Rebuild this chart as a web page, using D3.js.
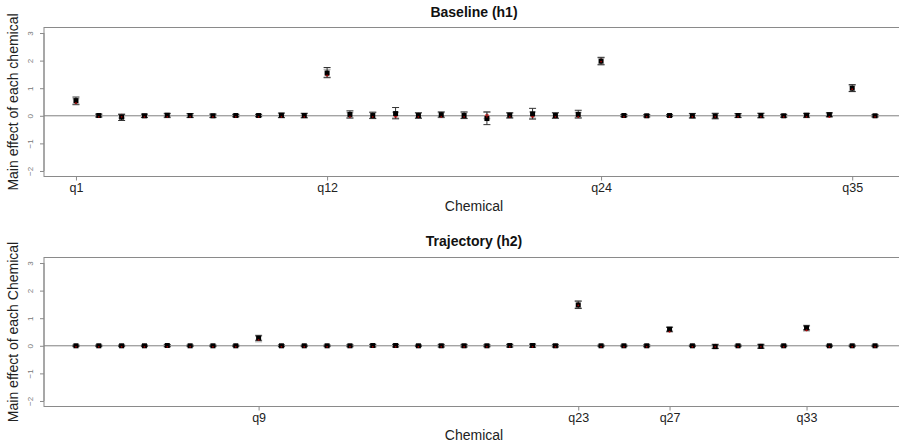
<!DOCTYPE html>
<html>
<head>
<meta charset="utf-8">
<script src="https://cdn.jsdelivr.net/npm/d3@7"></script>
<style>
html,body{margin:0;padding:0;background:#fff;}
svg{display:block;font-family:"Liberation Sans",Arial,sans-serif;}
</style>
</head>
<body>
<svg id="chart" width="899" height="446"></svg>
<script>
// ---- data ----
const chemicals = d3.range(1, 37).map(i => "q" + i);

const titleTop = "Baseline (h1)";
const titleBottom = "Trajectory (h2)";
const yLabelTop = "Main effect of each chemical";
const yLabelBottom = "Main effect of each Chemical";
const xLabel = "Chemical";
const yTicks = [-2, -1, 0, 1, 2, 3];
const xTicksTop = ["q1", "q12", "q24", "q35"];
const xTicksBottom = ["q9", "q23", "q27", "q33"];

// Baseline (h1): estimate and interval
const h1Est = [0.55, 0.01, -0.05, 0.00, 0.02, 0.01, 0.00, 0.01, 0.01, 0.02, 0.01, 1.55,
               0.05, 0.01, 0.08, 0.01, 0.04, 0.01, -0.10, 0.02, 0.07, 0.01, 0.05, 1.98,
               0.01, 0.00, 0.01, 0.00, -0.01, 0.01, 0.01, 0.00, 0.02, 0.04, 1.00, 0.00];
const h1Lo  = [0.42, -0.04, -0.17, -0.06, -0.05, -0.06, -0.06, -0.03, -0.03, -0.06, -0.07, 1.38,
               -0.08, -0.10, -0.11, -0.09, -0.05, -0.10, -0.32, -0.08, -0.12, -0.09, -0.08, 1.85,
               -0.03, -0.04, -0.02, -0.08, -0.11, -0.06, -0.07, -0.05, -0.05, -0.03, 0.88, -0.04];
const h1Hi  = [0.68, 0.06, 0.05, 0.06, 0.09, 0.08, 0.06, 0.05, 0.05, 0.10, 0.09, 1.75,
               0.18, 0.13, 0.30, 0.11, 0.14, 0.14, 0.14, 0.11, 0.27, 0.11, 0.20, 2.12,
               0.05, 0.04, 0.04, 0.08, 0.09, 0.08, 0.09, 0.05, 0.09, 0.11, 1.13, 0.04];
// Baseline (h1): reference points (red) and their intervals
const h1Ref = [0.50, 0.00, 0.00, 0.00, 0.00, 0.00, 0.00, 0.00, 0.00, 0.00, 0.00, 1.50,
               0.00, 0.00, 0.00, 0.00, 0.00, 0.00, 0.00, 0.00, 0.00, 0.00, 0.00, 2.00,
               0.00, 0.00, 0.00, 0.00, 0.00, 0.00, 0.00, 0.00, 0.00, 0.00, 1.00, 0.00];
const h1RefLo = [0.40, -0.05, -0.08, -0.06, -0.06, -0.06, -0.06, -0.05, -0.04, -0.07, -0.07, 1.40,
                 -0.08, -0.09, -0.08, -0.08, -0.06, -0.09, -0.10, -0.07, -0.09, -0.08, -0.07, 1.86,
                 -0.04, -0.04, -0.03, -0.07, -0.08, -0.06, -0.07, -0.05, -0.06, -0.05, 0.88, -0.04];
const h1RefHi = [0.62, 0.06, 0.07, 0.06, 0.07, 0.07, 0.06, 0.05, 0.05, 0.08, 0.08, 1.68,
                 0.12, 0.12, 0.13, 0.10, 0.12, 0.12, 0.13, 0.10, 0.14, 0.11, 0.12, 2.10,
                 0.04, 0.04, 0.04, 0.08, 0.08, 0.07, 0.09, 0.05, 0.07, 0.08, 1.10, 0.04];

// Trajectory (h2)
const h2Est = [0.00, 0.00, 0.00, 0.00, 0.01, 0.00, 0.00, 0.00, 0.28, 0.00, 0.00, 0.00,
               0.00, 0.01, 0.01, 0.00, 0.00, 0.00, 0.00, 0.01, 0.01, 0.00, 1.48, 0.00,
               0.00, 0.00, 0.60, 0.00, -0.03, 0.00, -0.02, 0.00, 0.65, 0.00, 0.00, 0.00];
const h2Lo  = [-0.02, -0.02, -0.02, -0.02, -0.03, -0.02, -0.02, -0.02, 0.20, -0.03, -0.02, -0.02,
               -0.03, -0.04, -0.04, -0.02, -0.04, -0.04, -0.03, -0.04, -0.05, -0.04, 1.35, -0.02,
               -0.02, -0.03, 0.53, -0.02, -0.10, -0.02, -0.09, -0.02, 0.58, -0.02, -0.02, -0.02];
const h2Hi  = [0.02, 0.02, 0.02, 0.02, 0.04, 0.02, 0.02, 0.02, 0.36, 0.03, 0.02, 0.02,
               0.03, 0.05, 0.05, 0.02, 0.04, 0.04, 0.03, 0.05, 0.06, 0.04, 1.62, 0.02,
               0.02, 0.03, 0.67, 0.02, 0.04, 0.02, 0.04, 0.02, 0.72, 0.02, 0.02, 0.02];
const h2Ref = [0.00, 0.00, 0.00, 0.00, 0.00, 0.00, 0.00, 0.00, 0.25, 0.00, 0.00, 0.00,
               0.00, 0.00, 0.00, 0.00, 0.00, 0.00, 0.00, 0.00, 0.00, 0.00, 1.50, 0.00,
               0.00, 0.00, 0.55, 0.00, 0.00, 0.00, 0.00, 0.00, 0.60, 0.00, 0.00, 0.00];
const h2RefLo = [-0.03, -0.03, -0.03, -0.03, -0.04, -0.03, -0.03, -0.03, 0.15, -0.03, -0.03, -0.03,
                 -0.04, -0.04, -0.04, -0.03, -0.05, -0.05, -0.04, -0.05, -0.05, -0.05, 1.38, -0.03,
                 -0.03, -0.04, 0.50, -0.03, -0.08, -0.03, -0.08, -0.03, 0.54, -0.03, -0.03, -0.03];
const h2RefHi = [0.03, 0.03, 0.03, 0.03, 0.04, 0.03, 0.03, 0.03, 0.38, 0.03, 0.03, 0.03,
                 0.04, 0.05, 0.05, 0.03, 0.05, 0.05, 0.04, 0.05, 0.06, 0.05, 1.62, 0.03,
                 0.03, 0.04, 0.68, 0.03, 0.06, 0.03, 0.06, 0.03, 0.74, 0.03, 0.03, 0.03];

// ---- drawing ----
const svg = d3.select("#chart");

function panel(opts) {
  const {top, bottom, title, titleY, yLabel, xTicks, est, lo, hi, ref, refLo, refHi, tickLabelY, xLabelY} = opts;
  const left = 44, right = 907;
  const x = d3.scaleLinear().domain([-0.4, 37.4]).range([left, right]);
  const y = d3.scaleLinear().domain([-2.2, 3.2]).range([bottom, top]);
  const g = svg.append("g");

  // frame
  g.append("rect").attr("x", left).attr("y", top).attr("width", right - left).attr("height", bottom - top)
    .attr("fill", "none").attr("stroke", "#8a8a8a").attr("stroke-width", 1);

  // zero line
  g.append("line").attr("x1", left).attr("x2", right).attr("y1", y(0)).attr("y2", y(0))
    .attr("stroke", "#808080").attr("stroke-width", 1);

  // y axis
  const ya = g.append("g").attr("transform", `translate(${left},0)`)
    .call(d3.axisLeft(y).tickValues(yTicks).tickSize(4).tickFormat(d3.format("d")));
  ya.select(".domain").attr("stroke", "#8a8a8a").attr("d", `M0,${y(-2)}V${y(3)}`);
  ya.selectAll(".tick line").attr("stroke", "#8a8a8a");
  ya.selectAll(".tick text")
    .attr("x", 0).attr("dy", 0)
    .attr("transform", "translate(-11,0) rotate(-90)")
    .attr("text-anchor", "middle")
    .attr("fill", "#777").style("font-size", "8px");

  // x axis
  const xa = g.append("g").attr("transform", `translate(0,${bottom})`)
    .call(d3.axisBottom(x).tickValues(xTicks.map(t => chemicals.indexOf(t) + 1))
      .tickSize(4).tickFormat(d => chemicals[d - 1]));
  xa.select(".domain").remove();
  xa.selectAll(".tick line").attr("stroke", "#8a8a8a");
  xa.selectAll(".tick text").attr("y", tickLabelY - bottom).attr("dy", "0.35em")
    .attr("fill", "#222").style("font-size", "12.5px");

  // titles
  g.append("text").attr("x", 474).attr("y", titleY).attr("text-anchor", "middle")
    .attr("dy", "0.35em").style("font-weight", "bold").style("font-size", "14px").attr("fill", "#111")
    .text(title);
  g.append("text").attr("x", 474).attr("y", xLabelY).attr("text-anchor", "middle")
    .attr("dy", "0.35em").style("font-size", "14px").attr("fill", "#222").text(xLabel);
  g.append("text").attr("transform", `translate(13,${(top + bottom) / 2}) rotate(-90)`)
    .attr("text-anchor", "middle").attr("dy", "0.35em").style("font-size", "14px").attr("fill", "#222")
    .text(yLabel);

  const idx = d3.range(chemicals.length);
  const cap = 3.5;

  // reference interval (light grey)
  const rg = g.append("g").attr("stroke", "#b8b8b8").attr("stroke-width", 1.6);
  idx.forEach(i => {
    const cx = x(i + 1);
    rg.append("line").attr("x1", cx).attr("x2", cx).attr("y1", y(refLo[i])).attr("y2", y(refHi[i]));
    rg.append("line").attr("x1", cx - cap).attr("x2", cx + cap).attr("y1", y(refLo[i])).attr("y2", y(refLo[i]));
    rg.append("line").attr("x1", cx - cap).attr("x2", cx + cap).attr("y1", y(refHi[i])).attr("y2", y(refHi[i]));
  });
  // reference points (red)
  g.append("g").selectAll("circle").data(idx).join("circle")
    .attr("cx", i => x(i + 1)).attr("cy", i => y(ref[i])).attr("r", 2)
    .attr("fill", "#e03030");

  // estimate interval (dark)
  const eg = g.append("g").attr("stroke", "#333").attr("stroke-width", 1);
  idx.forEach(i => {
    const cx = x(i + 1);
    eg.append("line").attr("x1", cx).attr("x2", cx).attr("y1", y(lo[i])).attr("y2", y(hi[i]));
    eg.append("line").attr("x1", cx - cap).attr("x2", cx + cap).attr("y1", y(lo[i])).attr("y2", y(lo[i]));
    eg.append("line").attr("x1", cx - cap).attr("x2", cx + cap).attr("y1", y(hi[i])).attr("y2", y(hi[i]));
  });
  // estimate points (black squares)
  g.append("g").selectAll("rect").data(idx).join("rect")
    .attr("x", i => x(i + 1) - 2.5).attr("y", i => y(est[i]) - 2.5)
    .attr("width", 5).attr("height", 5).attr("fill", "#000");
  // small red marker on top
  g.append("g").selectAll("circle").data(idx).join("circle")
    .attr("cx", i => x(i + 1)).attr("cy", i => y(ref[i]) + 1).attr("r", 0.9)
    .attr("fill", "#c00000").attr("opacity", 0.8);
}

panel({top: 27.5, bottom: 176.5, title: titleTop, titleY: 12, yLabel: yLabelTop, xTicks: xTicksTop,
  est: h1Est, lo: h1Lo, hi: h1Hi, ref: h1Ref, refLo: h1RefLo, refHi: h1RefHi, tickLabelY: 188, xLabelY: 206});
panel({top: 257.5, bottom: 406.5, title: titleBottom, titleY: 241, yLabel: yLabelBottom, xTicks: xTicksBottom,
  est: h2Est, lo: h2Lo, hi: h2Hi, ref: h2Ref, refLo: h2RefLo, refHi: h2RefHi, tickLabelY: 418, xLabelY: 435});
</script>
</body>
</html>
